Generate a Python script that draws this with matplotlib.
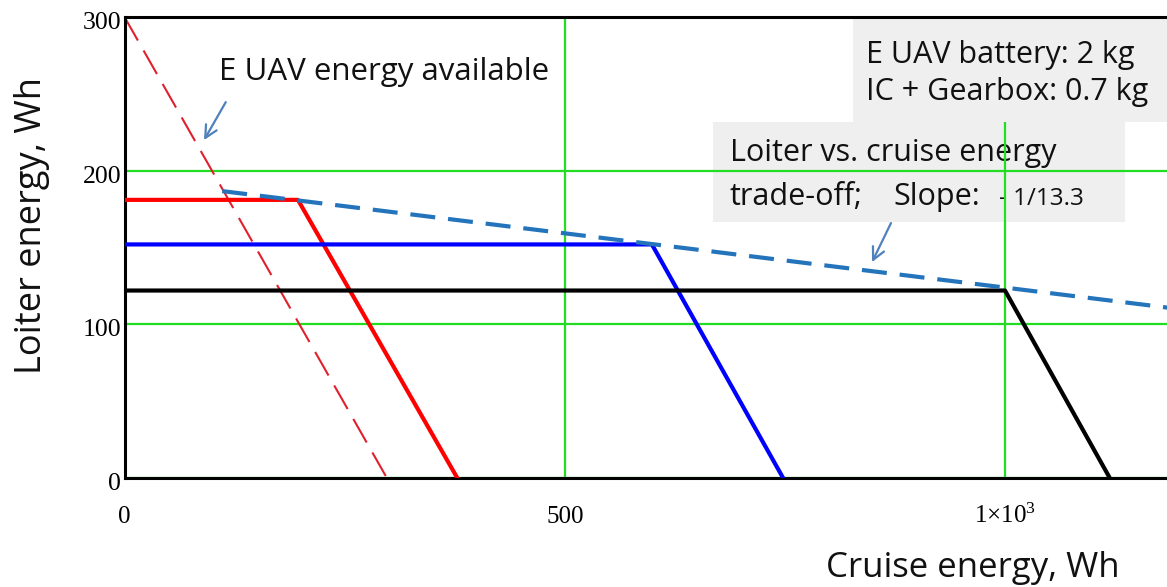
import matplotlib
matplotlib.use("Agg")
import matplotlib.pyplot as plt
from matplotlib.patches import Rectangle
from matplotlib.transforms import ScaledTranslation

plt.rcParams["mathtext.fontset"] = "custom"
plt.rcParams["mathtext.rm"] = "Liberation Serif"
plt.rcParams["mathtext.it"] = "Liberation Serif:italic"

# Energy budget of the electric UAV (Wh)
budget_x = [0, 298]
budget_y = [300, 0]

# Loiter vs. cruise energy for three hybrid configurations
red_x = [0, 197, 378]
red_y = [181, 181, 0]
blue_x = [0, 599, 748]
blue_y = [152, 152, 0]
black_x = [0, 1000, 1119]
black_y = [122, 122, 0]

# Trade-off line through the corner points
tradeoff_x = [111, 1190]
tradeoff_y = [186.7, 110.5]

x_ticks = [0, 500, 1000]
x_tick_labels = ["0", "500", r"$\mathrm{1{\times}10^{3}}$"]
y_ticks = [0, 100, 200, 300]
y_tick_labels = ["0", "100", "200", "300"]

W, H, DPI = 1167, 587, 100
fig = plt.figure(figsize=(W / DPI, H / DPI), dpi=DPI)

x_max = 1190
px_per_x = 0.8805
left_px, top_px, bottom_px = 124.5, 17, 478
ax = fig.add_axes([left_px / W, (H - bottom_px) / H,
                   x_max * px_per_x / W, (bottom_px - top_px) / H])
ax.set_xlim(0, x_max)
ax.set_ylim(0, 300)

sans = "Open Sans"
serif = "Liberation Serif"
green = "#22dd22"
ink = "#111111"


def data_x(px):
    """Horizontal pixel position inside the axes -> data value."""
    return (px - left_px) / px_per_x


# Grid
ax.set_axisbelow(True)
ax.set_xticks(x_ticks, x_tick_labels)
ax.set_yticks(y_ticks, y_tick_labels)
ax.grid(True, color=green, linewidth=1.6)
ax.tick_params(length=0)
ax.tick_params(axis="x", pad=32.4)
ax.tick_params(axis="y", pad=2.5)
for lab in ax.get_xticklabels():
    lab.set_fontfamily(serif)
    lab.set_fontsize(18)
    lab.set_verticalalignment("baseline")
for lab in ax.get_yticklabels():
    lab.set_fontfamily(serif)
    lab.set_fontsize(18.5)
    lab.set_verticalalignment("baseline")
    lab.set_transform(lab.get_transform() + ScaledTranslation(0, -0.12, fig.dpi_scale_trans))

for side in ("left", "top", "bottom"):
    ax.spines[side].set_linewidth(2.2)
    ax.spines[side].set_color("black")
ax.spines["right"].set_visible(False)

# Annotation backgrounds: one under the grid, one over it
ax.add_patch(Rectangle((data_x(713), 166.6), data_x(1125) - data_x(713), 65.0,
                       facecolor="#efefef", edgecolor="none", zorder=0.2))
ax.add_patch(Rectangle((data_x(853), 231.6), 380, 67.0, facecolor="#efefef",
                       edgecolor="none", zorder=0.8))

# Curves
ax.plot(budget_x, budget_y, color="#e0202c", linewidth=1.5,
        linestyle=(0, (13, 5.5)), zorder=2)
ax.plot(red_x, red_y, color="#ff0000", linewidth=3.0, zorder=3)
ax.plot(blue_x, blue_y, color="#0000ff", linewidth=3.0, zorder=3)
ax.plot(black_x, black_y, color="black", linewidth=3.0, zorder=3)
ax.plot(tradeoff_x, tradeoff_y, color="#2474bc", linewidth=3.0,
        linestyle=(0, (6, 3.1)), zorder=4)

# Text annotations
ax.text(data_x(219), 259, "E UAV energy available", fontfamily=sans,
        fontsize=22.5, va="baseline", ha="left", color=ink, zorder=5)
ax.text(data_x(866), 270, "E UAV battery: 2 kg", fontfamily=sans,
        fontsize=22, va="baseline", ha="left", color=ink, zorder=5)
ax.text(data_x(866), 246, "IC + Gearbox: 0.7 kg", fontfamily=sans,
        fontsize=22, va="baseline", ha="left", color=ink, zorder=5)
ax.text(data_x(730), 206, "Loiter vs. cruise energy", fontfamily=sans,
        fontsize=22, va="baseline", ha="left", color=ink, zorder=0.3)
ax.text(data_x(730), 177.6, "trade-off;", fontfamily=sans, fontsize=22,
        va="baseline", ha="left", color=ink, zorder=0.3)
ax.text(data_x(893), 177.6, "Slope:", fontfamily=sans, fontsize=22,
        va="baseline", ha="left", color=ink, zorder=0.3)
ax.text(data_x(999), 177.6, "- 1/13.3", fontfamily=sans, fontsize=17.5,
        va="baseline", ha="left", color=ink, zorder=0.3)

arrow_style = dict(arrowstyle="->", color="#4f81bd", lw=1.6,
                   mutation_scale=22, shrinkA=0, shrinkB=0)
ax.annotate("", xy=(90.3, 219.9), xytext=(115, 244.6), arrowprops=arrow_style,
            zorder=5)
ax.annotate("", xy=(849, 140.5), xytext=(870.5, 165.9), arrowprops=arrow_style,
            zorder=5)

# Axis titles
fig.text(826 / W, (H - 577) / H, "Cruise energy, Wh", fontfamily=sans,
         fontsize=25, ha="left", va="baseline", color=ink)
fig.text(32 / W, 1 - 225 / H, "Loiter energy, Wh", fontfamily=sans,
         fontsize=26, ha="center", va="center", rotation=90, color=ink)

fig.savefig("out.png", dpi=DPI)
